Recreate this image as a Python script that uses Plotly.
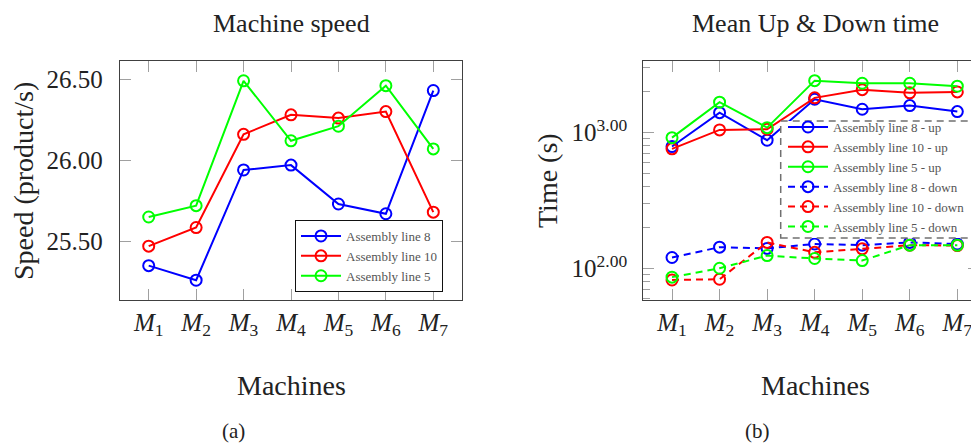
import plotly.graph_objects as go

machines = ["<i>M</i><sub>1</sub>", "<i>M</i><sub>2</sub>", "<i>M</i><sub>3</sub>", "<i>M</i><sub>4</sub>",
            "<i>M</i><sub>5</sub>", "<i>M</i><sub>6</sub>", "<i>M</i><sub>7</sub>"]

speed_line8 = [25.35, 25.26, 25.94, 25.97, 25.73, 25.67, 26.43]
speed_line10 = [25.47, 25.585, 26.16, 26.28, 26.26, 26.30, 25.68]
speed_line5 = [25.65, 25.72, 26.49, 26.12, 26.21, 26.46, 26.07]

up_line8 = [789, 1403, 879, 1762, 1486, 1581, 1429]
up_line10 = [759, 1047, 1059, 1803, 2073, 1963, 1995]
up_line5 = [918, 1676, 1088, 2415, 2311, 2311, 2198]

down_line8 = [120, 143, 140, 151, 148, 155, 151]
down_line10 = [82, 83, 155, 131, 139, 148, 147]
down_line5 = [86, 100, 124, 118, 114, 148, 148]

speed_ticks = [25.5, 26.0, 26.5]
time_ticks = [100, 1000]
time_ticklabels = ["10<sup>2.00</sup>", "10<sup>3.00</sup>"]
time_minor = [60, 70, 80, 90, 200, 300, 400, 500, 600, 700, 800, 900, 2000, 3000]

BLUE, RED, GREEN = "#0000ff", "#ff0000", "#00ff00"
FONT = "Liberation Serif"

fig = go.Figure()

def add(x, y, name, color, xa, ya, legend, dash="solid"):
    fig.add_trace(go.Scatter(
        x=x, y=y, name=name, mode="lines+markers",
        line=dict(color=color, width=2, dash=dash),
        marker=dict(symbol="circle-open", size=11, color=color, line=dict(width=2, color=color)),
        xaxis=xa, yaxis=ya, legend=legend))

add(machines, speed_line8, "Assembly line 8", BLUE, "x", "y", "legend")
add(machines, speed_line10, "Assembly line 10", RED, "x", "y", "legend")
add(machines, speed_line5, "Assembly line 5", GREEN, "x", "y", "legend")

add(machines, up_line8, "Assembly line 8 - up", BLUE, "x2", "y2", "legend2")
add(machines, up_line10, "Assembly line 10 - up", RED, "x2", "y2", "legend2")
add(machines, up_line5, "Assembly line 5 - up", GREEN, "x2", "y2", "legend2")
add(machines, down_line8, "Assembly line 8 - down", BLUE, "x2", "y2", "legend2", dash="7px,5px")
add(machines, down_line10, "Assembly line 10 - down", RED, "x2", "y2", "legend2", dash="7px,5px")
add(machines, down_line5, "Assembly line 5 - down", GREEN, "x2", "y2", "legend2", dash="7px,5px")

# page body has an 8px margin: figure is 971x437 drawn at offset (8, 8)
OFF = 8
W, H = 979 - OFF, 445 - OFF
def px(x): return (x - OFF) / W
def py(y): return 1 - (y - OFF) / H

axis_common = dict(showline=True, linecolor="#404040", linewidth=1.3, mirror="ticks",
                   ticks="inside", tickcolor="#a0a0a0", ticklen=11, tickwidth=1.3,
                   showgrid=False, zeroline=False, automargin=False,
                   tickfont=dict(family=FONT, size=25, color="#222"))

ydom = [py(300), py(60.7)]

fig.update_layout(
    width=W, height=H, margin=dict(l=0, r=0, t=0, b=0, autoexpand=False),
    paper_bgcolor="white", plot_bgcolor="white",
    font=dict(family=FONT, color="#222"),
    xaxis=dict(domain=[px(120), px(462)], range=[-0.605, 6.605], type="category", anchor="y",
               ticklabelstandoff=0, **axis_common),
    yaxis=dict(domain=ydom, range=[25.138, 26.614], tickvals=speed_ticks, tickformat=".2f",
               anchor="x", ticklabelstandoff=11, **axis_common),
    xaxis2=dict(domain=[px(643.3), 1.0], range=[-0.604, 6.456], type="category", anchor="y2",
                ticklabelstandoff=0, **axis_common),
    yaxis2=dict(domain=ydom, type="log", range=[1.766, 3.53], tickvals=time_ticks,
                ticktext=time_ticklabels, anchor="x2", ticklabelstandoff=10, **axis_common),
    yaxis3=dict(overlaying="y2", anchor="x2", type="log", range=[1.766, 3.53], tickvals=time_minor,
                ticks="inside", ticklen=7, tickcolor="#a0a0a0", tickwidth=1.3, mirror="ticks",
                showline=False, showticklabels=False, showgrid=False, zeroline=False, automargin=False),
    showlegend=True,
    legend=dict(x=px(295), y=py(292), xanchor="left", yanchor="bottom",
                bgcolor="white", bordercolor="#111", borderwidth=1,
                font=dict(family=FONT, size=13, color="#555"), itemwidth=40,
                tracegroupgap=0),
    legend2=dict(x=px(783), y=py(242), xanchor="left", yanchor="bottom",
                 bgcolor="rgba(0,0,0,0)", borderwidth=0,
                 font=dict(family=FONT, size=13, color="#555"), itemwidth=40,
                 tracegroupgap=0),
)

# invisible trace to activate yaxis3 (minor log ticks)
fig.add_trace(go.Scatter(x=[machines[0]], y=[up_line8[0]], xaxis="x2", yaxis="y3",
                         mode="markers", marker=dict(opacity=0), showlegend=False, hoverinfo="skip"))

ann = dict(showarrow=False, xref="paper", yref="paper", xanchor="center", yanchor="middle")
title_ann = dict(showarrow=False, xref="paper", yref="paper", xanchor="center", yanchor="top", borderpad=0)
fig.add_annotation(text="Machine speed", x=px(291), y=1.0, font=dict(family=FONT, size=26, color="#222"), **title_ann)
fig.add_annotation(text="Mean Up &amp; Down time", x=px(815), y=1.0, font=dict(family=FONT, size=26, color="#222"), **title_ann)
fig.add_annotation(text="Machines", x=px(291), y=py(385), font=dict(family=FONT, size=28, color="#222"), **ann)
fig.add_annotation(text="Machines", x=px(815), y=py(385), font=dict(family=FONT, size=28, color="#222"), **ann)
fig.add_annotation(text="Speed (product/s)", x=px(24), y=py(181), textangle=-90, font=dict(family=FONT, size=28, color="#222"), **ann)
fig.add_annotation(text="Time (s)", x=px(548), y=py(181), textangle=-90, font=dict(family=FONT, size=28, color="#222"), **ann)
fig.add_annotation(text="(a)", x=px(233), y=py(431), font=dict(family=FONT, size=21, color="#222"), **ann)
fig.add_annotation(text="(b)", x=px(757), y=py(431), font=dict(family=FONT, size=21, color="#222"), **ann)

fig.add_shape(type="rect", xref="paper", yref="paper", x0=px(780.7), x1=px(977.7), y0=py(238), y1=py(121),
              line=dict(color="#707070", width=1.5, dash="7px,5px"), fillcolor="white", layer="above")

fig.write_html("out.html")
